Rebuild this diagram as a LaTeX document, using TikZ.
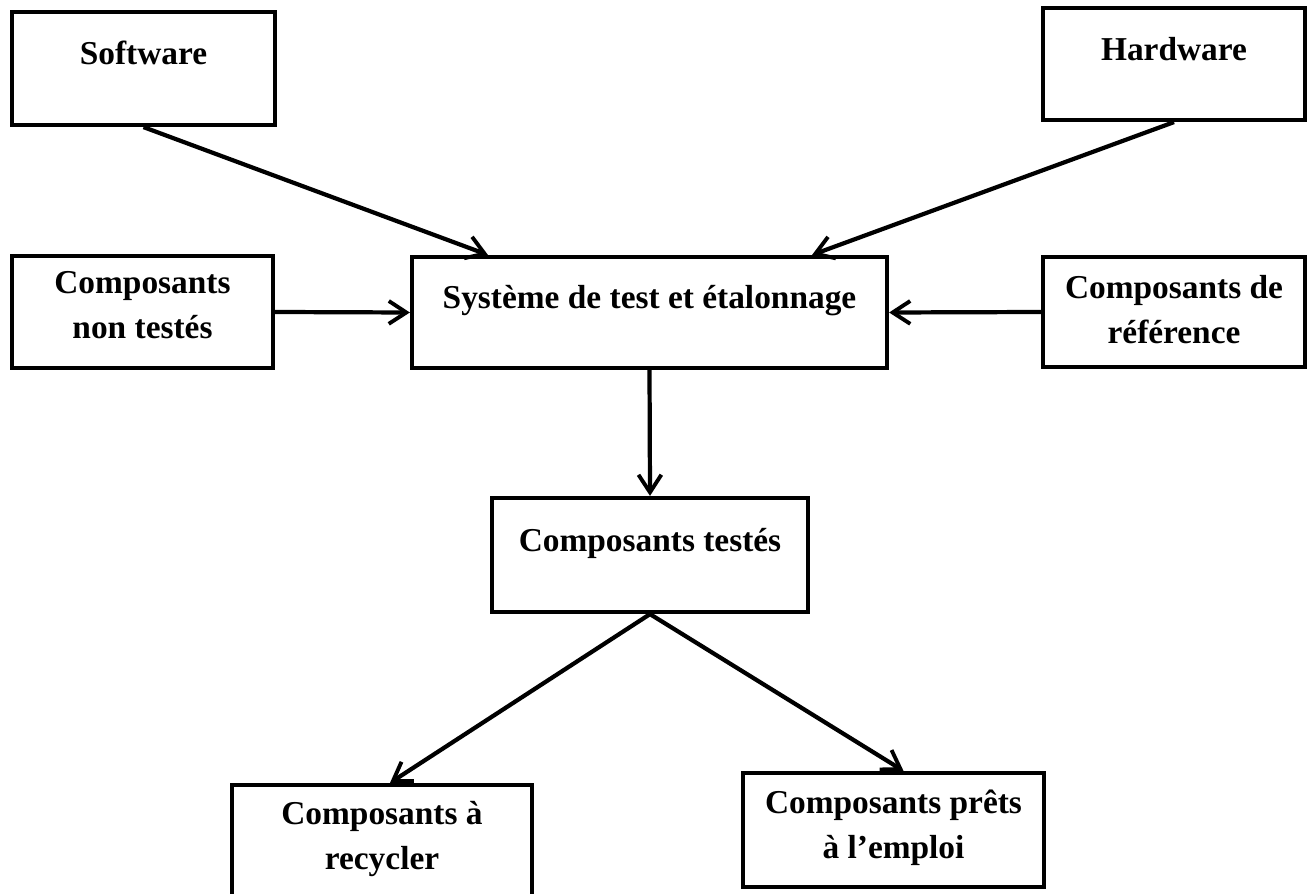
\documentclass[tikz,border=0pt]{standalone}
\usepackage{fontspec}
\setmainfont{Liberation Serif}
\usetikzlibrary{arrows.meta}

\begin{document}
\begin{tikzpicture}[
  box/.style = {draw, line width=2.4pt, rectangle, inner sep=0pt},
  txt/.style = {inner sep=0pt, align=center, anchor=north,
                font=\fontsize{19}{25.6}\selectfont\bfseries},
  arr/.style = {line width=2.4pt, -{Straight Barb[length=10pt,width=13pt,line width=2.2pt]}}
]

\useasboundingbox (0,0) rectangle (26.22,-17.88);

% top row
\node[box, minimum width=5.26cm, minimum height=2.26cm,
      label={[txt,yshift=-0.62cm]north:Software}] (sw) at (2.87,-1.37) {};
\node[box, minimum width=5.24cm, minimum height=2.24cm,
      label={[txt,yshift=-0.62cm]north:Hardware}] (hw) at (23.48,-1.28) {};

% middle row
\node[box, minimum width=5.22cm, minimum height=2.24cm,
      label={[txt,yshift=-0.35cm]north:Composants\\non testés}] (nt) at (2.85,-6.24) {};
\node[box, minimum width=9.5cm, minimum height=2.22cm,
      label={[txt,yshift=-0.6cm]north:Système de test et étalonnage}] (sys) at (12.99,-6.25) {};
\node[box, minimum width=5.24cm, minimum height=2.2cm,
      label={[txt,yshift=-0.4cm]north:Composants de\\référence}] (ref) at (23.48,-6.24) {};

% tested
\node[box, minimum width=6.32cm, minimum height=2.28cm,
      label={[txt,yshift=-0.64cm]north:Composants testés}] (ts) at (13.0,-11.1) {};

% bottom row
\node[box, minimum width=6.0cm, minimum height=2.24cm,
      label={[txt,yshift=-0.36cm]north:Composants à\\recycler}] (rc) at (7.64,-16.82) {};
\node[box, minimum width=6.02cm, minimum height=2.28cm,
      label={[txt,yshift=-0.38cm]north:Composants prêts\\à l’emploi}] (pr) at (17.87,-16.6) {};

% arrows
\draw[arr] (sw.south) -- ([xshift=1.56cm]sys.north west);
\draw[arr] (hw.south) -- ([xshift=-1.54cm]sys.north east);
\draw[arr] (nt.east) -- (sys.west);
\draw[arr] (ref.west) -- (sys.east);
\draw[arr] (sys.south) -- (ts.north);
\draw[arr] (ts.south) -- ([xshift=0.16cm]rc.north);
\draw[arr] (ts.south) -- ([xshift=0.2cm]pr.north);

\end{tikzpicture}
\end{document}
